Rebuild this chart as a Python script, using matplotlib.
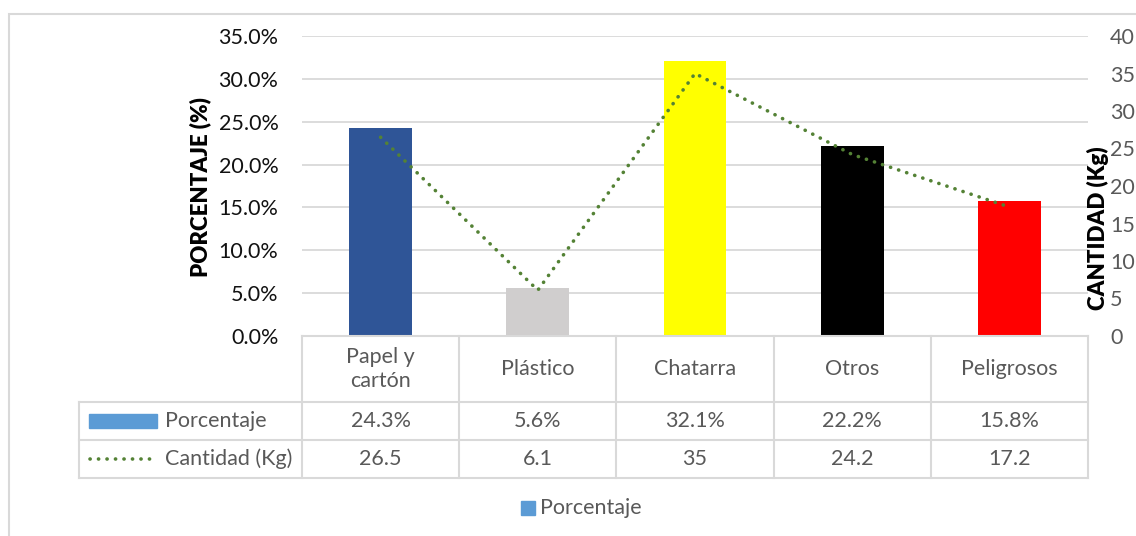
import numpy as np
import matplotlib
matplotlib.use("Agg")
import matplotlib.pyplot as plt
from matplotlib.patches import Rectangle
from matplotlib.lines import Line2D
import matplotlib.transforms as mtransforms

categories = ["Papel y\ncartón", "Plástico", "Chatarra", "Otros", "Peligrosos"]
porcentaje = [24.3, 5.6, 32.1, 22.2, 15.8]
cantidad = [26.5, 6.1, 35, 24.2, 17.2]
pct_labels = ["24.3%", "5.6%", "32.1%", "22.2%", "15.8%"]
kg_labels = ["26.5", "6.1", "35", "24.2", "17.2"]
bar_colors = ["#2F5597", "#D0CECE", "#FFFF00", "#000000", "#FF0000"]

W, H = 1136, 536
plt.rcParams['font.family'] = ['Lato', 'DejaVu Sans']
GRAY = "#595959"
GRID = "#D9D9D9"
FS = 15.5
DOTS = (0, (0.05, 2.3))


def fx(px):
    return px / W


def fy(py):
    return 1 - py / H


fig = plt.figure(figsize=(W / 100, H / 100), dpi=100)

# chart frame
fig.add_artist(Rectangle((fx(9), fy(560)), fx(1140), fy(14) - fy(560),
                         transform=fig.transFigure, fill=False,
                         edgecolor=GRID, linewidth=1.5))

ax = fig.add_axes([fx(302), fy(336), fx(1088) - fx(302), fy(36) - fy(336)])
x = np.arange(len(categories))
ax.bar(x, np.array(porcentaje) / 100, width=0.4, color=bar_colors, zorder=2)
ax.set_xlim(-0.5, len(categories) - 0.5)
ax.set_ylim(0, 0.35)
ax.set_yticks(np.arange(0, 0.351, 0.05))
ax.set_yticklabels([f"{v * 100:.1f}%" for v in np.arange(0, 0.351, 0.05)])
ax.yaxis.grid(True, color=GRID, linewidth=1.3, zorder=0)
ax.set_axisbelow(True)
ax.tick_params(axis='y', length=0, pad=17, labelsize=FS, labelcolor="#111111")
ax.set_xticks([])
for s in ax.spines.values():
    s.set_visible(False)

ax2 = ax.twinx()
ax2.plot(x, cantidad, color="#548235", linestyle=DOTS,
         linewidth=2.6, dash_capstyle='round', zorder=3)
ax2.set_ylim(0, 40)
ax2.set_yticks(np.arange(0, 41, 5))
ax2.tick_params(axis='y', length=0, pad=16, labelsize=FS, labelcolor=GRAY)
for s in ax2.spines.values():
    s.set_visible(False)

fig.text(fx(200), fy(187), "PORCENTAJE (%)", rotation=90, ha='center',
         va='center', fontsize=16, fontweight='heavy', color='black')
fig.text(fx(1098), fy(228), "CANTIDAD (Kg)", rotation=90, ha='center',
         va='center', fontsize=16, fontweight='heavy', color='black')

# data table under the axis
trans = mtransforms.blended_transform_factory(ax.transData, ax.transAxes)
y_rows = [0, (336 - 402) / 300, (336 - 440) / 300, (336 - 478) / 300]
x_head = -0.5 - (302 - 79) / ((1088 - 302) / len(categories))
lkw = dict(color=GRID, linewidth=1.5, transform=trans, clip_on=False)
for yy in y_rows:
    xs = -0.5 if yy == 0 else x_head
    ax.plot([xs, len(categories) - 0.5], [yy, yy], **lkw)
for i in range(len(categories) + 1):
    ax.plot([i - 0.5, i - 0.5], [0, y_rows[-1]], **lkw)
ax.plot([x_head, x_head], [y_rows[1], y_rows[-1]], **lkw)

tkw = dict(transform=trans, ha='center', va='center', fontsize=FS,
           color=GRAY, clip_on=False)
for i, cat in enumerate(categories):
    ax.text(i, (y_rows[0] + y_rows[1]) / 2, cat, linespacing=1.2, **tkw)
    ax.text(i, (y_rows[1] + y_rows[2]) / 2, pct_labels[i], **tkw)
    ax.text(i, (y_rows[2] + y_rows[3]) / 2, kg_labels[i], **tkw)

# row headers
fig.add_artist(Rectangle((fx(89), fy(428)), fx(157) - fx(89), fy(414) - fy(428),
                         transform=fig.transFigure, color="#5B9BD5"))
fig.text(fx(165), fy(421), "Porcentaje", ha='left', va='center',
         fontsize=FS, color=GRAY)
fig.add_artist(Line2D([fx(90), fx(157)], [fy(459), fy(459)],
                      transform=fig.transFigure, color="#548235",
                      linestyle=DOTS, linewidth=2.6,
                      dash_capstyle='round'))
fig.text(fx(165), fy(459), "Cantidad (Kg)", ha='left', va='center',
         fontsize=FS, color=GRAY)

# legend at the bottom
fig.add_artist(Rectangle((fx(521), fy(515)), fx(535) - fx(521), fy(501) - fy(515),
                         transform=fig.transFigure, color="#5B9BD5"))
fig.text(fx(540), fy(508), "Porcentaje", ha='left', va='center',
         fontsize=FS, color=GRAY)

fig.savefig("out.png", dpi=100)
